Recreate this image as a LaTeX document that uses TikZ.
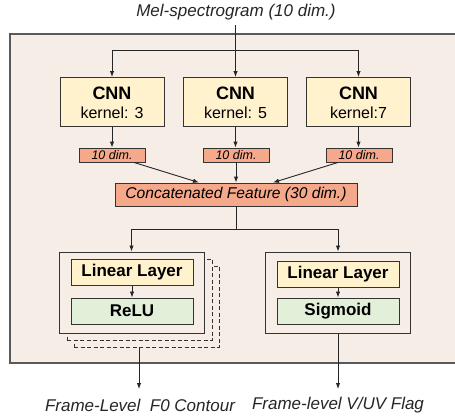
\documentclass[tikz,border=0pt]{standalone}
\usepackage{fontspec}
\setmainfont{Liberation Sans}
\usetikzlibrary{arrows.meta,positioning,calc}

\definecolor{panelbg}{HTML}{F7EDE7}
\definecolor{cnnfill}{HTML}{FFF2CC}
\definecolor{featfill}{HTML}{F5A98A}
\definecolor{actfill}{HTML}{E2F0D9}
\definecolor{edge}{HTML}{333333}

\tikzset{
  arr/.style={draw=black!85, line width=0.9pt, -{Latex[length=6pt,width=4.5pt]}},
  wire/.style={draw=black!85, line width=0.9pt},
  cnnbox/.style={draw=edge, line width=1pt, fill=cnnfill, minimum width=104pt, minimum height=49pt, inner sep=0pt, align=center},
  dimbox/.style={draw=edge, line width=0.9pt, fill=featfill, minimum width=66pt, minimum height=14pt, inner sep=0pt, font=\fontsize{12.5}{14}\selectfont\itshape},
  catbox/.style={draw=edge, line width=0.9pt, fill=featfill, minimum width=242pt, minimum height=23pt, inner sep=0pt, font=\fontsize{15.6}{18}\selectfont\itshape},
  groupbox/.style={draw=edge, line width=1pt, fill=panelbg, minimum width=145pt, minimum height=81pt, inner sep=0pt},
  ghostbox/.style={groupbox, dashed, dash pattern=on 4pt off 2.5pt},
  linbox/.style={draw=edge, line width=1pt, fill=cnnfill, minimum width=122pt, minimum height=26pt, inner sep=0pt, font=\fontsize{17}{20}\selectfont\bfseries},
  actbox/.style={draw=edge, line width=1pt, fill=actfill, minimum width=122pt, minimum height=26pt, inner sep=0pt, font=\fontsize{17}{20}\selectfont\bfseries},
  caption/.style={inner sep=0pt, font=\fontsize{17}{20}\selectfont\itshape, text=black!85},
}

\begin{document}
\begin{tikzpicture}[x=1pt, y=-1pt]
  \useasboundingbox (0,0) rectangle (455,418);
  \fill[white] (0,0) rectangle (455,418);

  % outer panel (runs past the right edge)
  \draw[draw=black!65, line width=1.6pt, fill=panelbg] (10,34) rectangle (470,363);

  % input
  \node[caption] (mel) at (236,12) {Mel-spectrogram (10 dim.)};
  \coordinate (melfoot) at (235.5,25);

  % three CNN branches
  \node[cnnbox] (c1) at (112,102) {};
  \node[cnnbox] (c2) at (235.5,102) {};
  \node[cnnbox] (c3) at (358.5,102) {};
  \foreach \c/\k in {c1/{kernel: 3}, c2/{kernel: 5}, c3/{kernel:7}} {
    \node[font=\fontsize{18}{20}\selectfont\bfseries, inner sep=0pt] at ([yshift=9pt]\c.center) {CNN};
    \node[font=\fontsize{16}{18}\selectfont, inner sep=0pt] at ([yshift=-11pt]\c.center) {\k};
  }

  \coordinate (split) at (235.5,50);
  \draw[wire] (melfoot) -- (split);
  \draw[arr] (split) -- (c2.north);
  \draw[arr] (split) -| (c1.north);
  \draw[arr] (split) -| (c3.north);

  % per-branch features
  \node[dimbox] (d1) at (112,155) {10 dim.};
  \node[dimbox] (d2) at (236,155) {10 dim.};
  \node[dimbox] (d3) at (359,155) {10 dim.};
  \draw[arr] (c1.south) -- (c1.south |- d1.north);
  \draw[arr] (c2.south) -- (c2.south |- d2.north);
  \draw[arr] (c3.south) -- (c3.south |- d3.north);

  % concatenation
  \node[catbox] (cat) at (236,194.5) {Concatenated Feature (30 dim.)};
  \draw[arr] ([xshift=22pt]d1.south) -- ([xshift=-37pt]cat.north);
  \draw[arr] (d2.south) -- (d2.south |- cat.north);
  \draw[arr] ([xshift=-21pt]d3.south) -- ([xshift=37pt]cat.north);

  % heads: stacked copies behind the F0 head
  \node[ghostbox] (g2) at (146.5,306.5) {};
  \node[ghostbox] (g1) at (139.5,299.5) {};
  \node[groupbox] (hl) at (131.5,292.5) {};
  \node[groupbox] (hr) at (338,292.5) {};

  \node[linbox] (l1) at (132,272) {Linear Layer};
  \node[actbox] (a1) at (132,311) {ReLU};
  \node[linbox] (l2) at (338,274) {Linear Layer};
  \node[actbox] (a2) at (338,311) {Sigmoid};
  \draw[arr] (l1.south) -- (a1.north);
  \draw[arr] (l2.south) -- (a2.north);

  \coordinate (fork) at (236,229);
  \draw[wire] (cat.south) -- (fork);
  \draw[arr] (fork) -| (hl.north);
  \draw[arr] (fork) -| (hr.north);

  % outputs
  \node[caption] (o1) at (140,405) {Frame-Level\ \ F0 Contour};
  \node[caption] (o2) at (338,405) {Frame-level V/UV Flag};
  \coordinate (f0tip) at (139,389);
  \coordinate (vuvtip) at (338,389);
  \draw[arr] (g2.south -| f0tip) -- (f0tip);
  \draw[arr] (hr.south) -- (vuvtip);
\end{tikzpicture}
\end{document}
